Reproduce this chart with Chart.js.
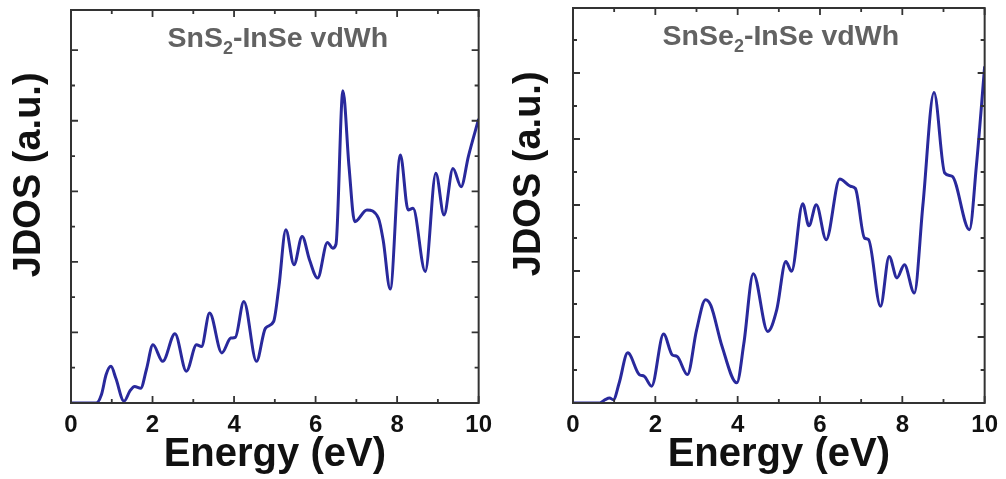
<!DOCTYPE html>
<html><head><meta charset="utf-8">
<script src="https://cdn.jsdelivr.net/npm/chart.js@4.4.1/dist/chart.umd.min.js"></script>
<style>
html,body{margin:0;padding:0;background:#fff;width:1006px;height:479px;overflow:hidden}
.panel{position:absolute;top:0;height:479px}
</style></head><body>
<div class="panel" style="left:0;width:500px"><canvas id="c1" width="500" height="479"></canvas></div>
<div class="panel" style="left:500px;width:506px"><canvas id="c2" width="506" height="479"></canvas></div>
<script>
// ---- data ----
const xTickValues = [0, 2, 4, 6, 8, 10];
const xTickLabels = ['0', '2', '4', '6', '8', '10'];
const xMinorTicks = [1, 3, 5, 7, 9];
const yTicksLeft = [1, 2, 3, 4, 5, 6, 7, 8, 9, 10];
const yTicksRight = [1, 2, 3, 4, 5, 6, 7, 8, 9, 10, 11];

const leftEnergy = [0, 0.62, 0.75, 0.86, 0.98, 1.1, 1.30, 1.45, 1.56, 1.71, 1.85, 2.01, 2.25, 2.55, 2.83, 3.08, 3.20, 3.40, 3.70, 3.92, 4.03, 4.24, 4.55, 4.77, 4.97, 5.10, 5.27, 5.47, 5.67, 5.85, 6.05, 6.29, 6.42, 6.50, 6.67, 6.82, 6.96, 7.26, 7.54, 7.66, 7.83, 8.08, 8.27, 8.39, 8.69, 8.95, 9.15, 9.37, 9.57, 9.75, 10];
const leftJDOS   = [0, 0, 0.25, 0.8, 1.04, 0.7, 0.05, 0.35, 0.47, 0.42, 0.95, 1.65, 1.18, 1.96, 0.90, 1.65, 1.60, 2.55, 1.42, 1.84, 1.86, 2.88, 1.18, 2.12, 2.31, 3.3, 4.91, 3.92, 4.72, 4.06, 3.54, 4.55, 4.39, 4.5, 8.85, 6.7, 5.14, 5.47, 5.24, 4.6, 3.23, 7.03, 5.47, 5.52, 3.73, 6.51, 5.33, 6.65, 6.13, 7.0, 8.05];

const rightEnergy = [0, 0.65, 0.78, 0.89, 0.98, 1.12, 1.33, 1.61, 1.73, 1.91, 2.20, 2.41, 2.53, 2.78, 3.00, 3.22, 3.35, 3.62, 3.98, 4.15, 4.38, 4.73, 4.95, 5.17, 5.31, 5.58, 5.73, 5.91, 6.15, 6.48, 6.74, 6.86, 7.08, 7.18, 7.47, 7.68, 7.87, 8.05, 8.29, 8.50, 8.77, 9.03, 9.21, 9.63, 9.80, 10];
const rightJDOS   = [0, 0, 0.1, 0.15, 0.1, 0.6, 1.52, 0.86, 0.81, 0.51, 2.09, 1.46, 1.41, 0.86, 2.2, 3.13, 2.95, 1.72, 0.61, 1.8, 3.92, 2.17, 2.83, 4.29, 3.99, 6.04, 5.37, 6.01, 4.95, 6.79, 6.57, 6.5, 5.0, 4.95, 2.93, 4.44, 3.79, 4.19, 3.33, 6.0, 9.41, 6.97, 6.87, 5.25, 7.2, 10.2];

const leftTitle = ['SnS', '2', '-InSe vdWh'];
const rightTitle = ['SnSe', '2', '-InSe vdWh'];
const xAxisTitle = 'Energy (eV)';
const yAxisTitle = 'JDOS (a.u.)';

// ---- drawing ----
const FONT = "'Liberation Sans', Arial, Helvetica, sans-serif";

const framePlugin = {
  id: 'frame',
  afterDatasetsDraw(chart, args, o) {
    const {ctx, chartArea: a, scales: {x, y}} = chart;
    ctx.save();
    ctx.strokeStyle = '#333';
    ctx.lineWidth = 1.8;
    ctx.beginPath();
    const xt = xTickValues.map(v => [v, 7]).concat(xMinorTicks.map(v => [v, 4]));
    xt.forEach(([v, len]) => {
      const px = x.getPixelForValue(v);
      ctx.moveTo(px, a.bottom); ctx.lineTo(px, a.bottom - len);
      ctx.moveTo(px, a.top); ctx.lineTo(px, a.top + len);
    });
    o.yTicks.forEach(v => {
      const py = y.getPixelForValue(v);
      const len = v % 2 === 0 ? 7 : 4;
      ctx.moveTo(a.left, py); ctx.lineTo(a.left + len, py);
      ctx.moveTo(a.right, py); ctx.lineTo(a.right - len, py);
    });
    ctx.stroke();
    ctx.lineWidth = 2;
    ctx.strokeRect(a.left, a.top, a.right - a.left, a.bottom - a.top);
    ctx.restore();
  }
};

const titlePlugin = {
  id: 'panelTitle',
  afterDraw(chart, args, o) {
    const ctx = chart.ctx, a = chart.chartArea;
    ctx.save();
    ctx.fillStyle = '#626262';
    ctx.textBaseline = 'alphabetic';
    ctx.textAlign = 'left';
    const main = `bold ${o.size}px ${FONT}`, sub = `bold ${o.subSize}px ${FONT}`;
    ctx.font = main;
    const w1 = ctx.measureText(o.parts[0]).width, w3 = ctx.measureText(o.parts[2]).width;
    ctx.font = sub;
    const w2 = ctx.measureText(o.parts[1]).width;
    let x = (a.left + a.right) / 2 - (w1 + w2 + w3) / 2 + o.dx;
    const y = o.baseline;
    ctx.font = main; ctx.fillText(o.parts[0], x, y); x += w1;
    ctx.font = sub; ctx.fillText(o.parts[1], x, y + o.subDrop); x += w2;
    ctx.font = main; ctx.fillText(o.parts[2], x, y);
    ctx.restore();
  }
};

function makeChart(id, xs, ys, yMax, yTicks, title, pad) {
  return new Chart(document.getElementById(id), {
    type: 'line',
    data: {
      datasets: [{
        data: xs.map((x, i) => ({x: x, y: ys[i]})),
        borderColor: '#29299c',
        borderWidth: 3,
        pointRadius: 0,
        cubicInterpolationMode: 'monotone',
        fill: false
      }]
    },
    options: {
      responsive: false,
      animation: false,
      layout: {padding: {top: pad.top, right: pad.right, left: 0, bottom: 0}},
      plugins: {
        legend: {display: false},
        tooltip: {enabled: false},
        frame: {yTicks: yTicks},
        panelTitle: {parts: title, size: 28.5, subSize: 18, subDrop: 7, baseline: pad.titleBase, dx: pad.titleDx}
      },
      scales: {
        x: {
          type: 'linear', min: 0, max: 10,
          grid: {display: false, drawTicks: false},
          border: {display: false},
          ticks: {
            stepSize: 2, autoSkip: false, maxRotation: 0, padding: 8,
            color: '#111',
            font: {family: FONT, size: 24, weight: 'bold'},
            callback: (v) => { const i = xTickValues.indexOf(v); return i >= 0 ? xTickLabels[i] : ''; }
          },
          title: {display: true, text: xAxisTitle, color: '#111',
                  font: {family: FONT, size: 40, weight: 'bold'}, padding: {top: 0, bottom: 0}},
          afterFit(s) { s.height = 76; }
        },
        y: {
          type: 'linear', min: 0, max: yMax,
          grid: {display: false, drawTicks: false},
          border: {display: false},
          ticks: {display: false},
          title: {display: true, text: '      ' + yAxisTitle, color: '#111',
                  font: {family: FONT, size: 38, weight: 'bold'}, padding: {top: 7, bottom: 7}},
          afterFit(s) { s.width = pad.left; }
        }
      }
    },
    plugins: [framePlugin, titlePlugin]
  });
}

makeChart('c1', leftEnergy, leftJDOS, 11.14, yTicksLeft, leftTitle,
          {top: 10, right: 15, left: 71, titleBase: 47, titleDx: 3});
makeChart('c2', rightEnergy, rightJDOS, 11.97, yTicksRight, rightTitle,
          {top: 8, right: 18, left: 73, titleBase: 45, titleDx: 2});
</script>
</body></html>
